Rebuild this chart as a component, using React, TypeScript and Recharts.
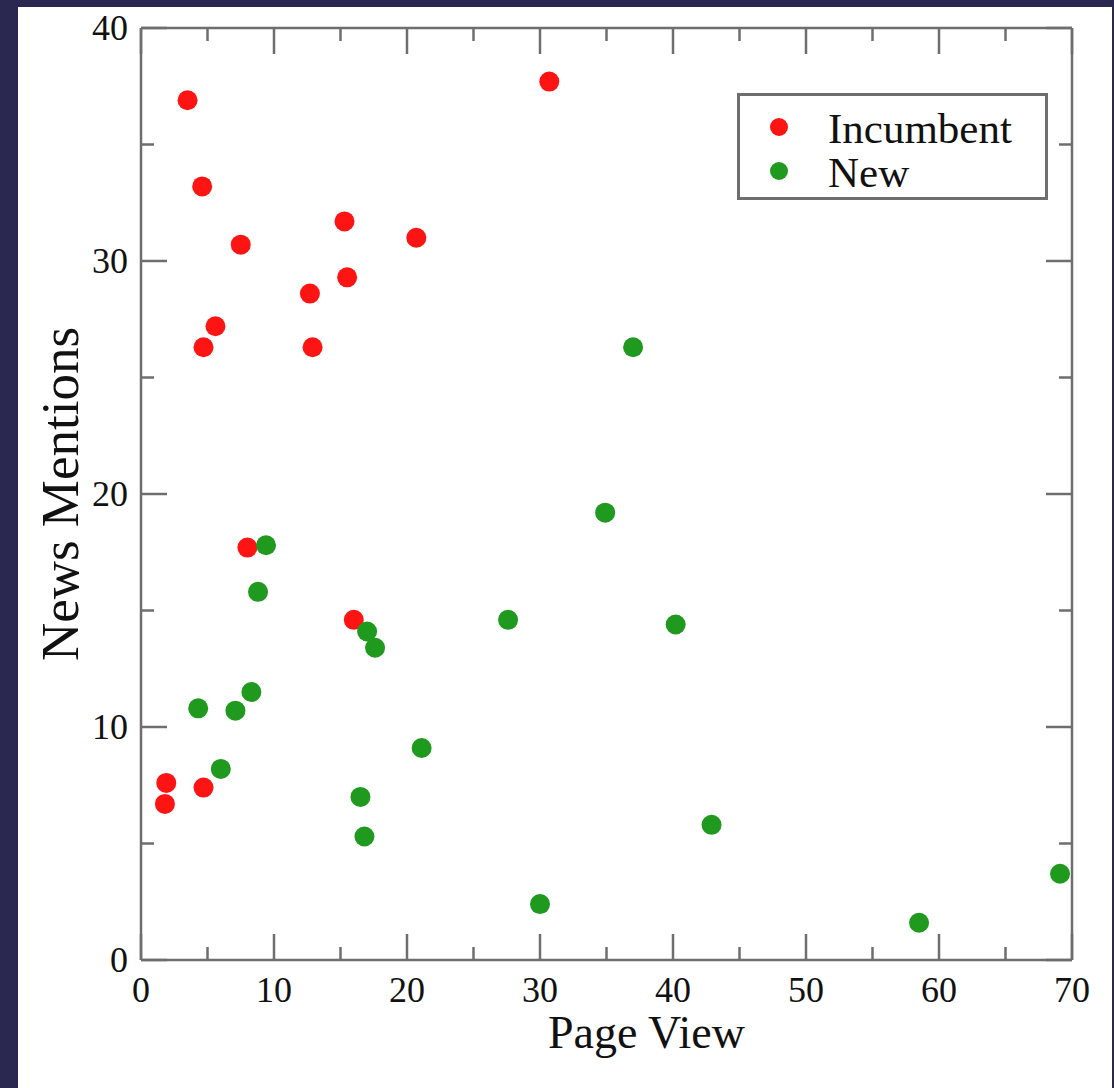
import React from 'react';
import { ScatterChart, Scatter, XAxis, YAxis, Legend, Label } from 'recharts';

const incumbentPageView = [3.5, 4.6, 7.5, 5.6, 4.7, 12.7, 12.9, 15.3, 15.5, 20.7, 30.7, 8.0, 16.0, 1.9, 1.8, 4.7];
const incumbentMentions = [36.9, 33.2, 30.7, 27.2, 26.3, 28.6, 26.3, 31.7, 29.3, 31.0, 37.7, 17.7, 14.6, 7.6, 6.7, 7.4];
const newPageView = [37.0, 34.9, 9.4, 8.8, 27.6, 40.2, 17.0, 17.6, 4.3, 7.1, 8.3, 6.0, 21.1, 16.5, 16.8, 42.9, 30.0, 58.5, 69.1];
const newMentions = [26.3, 19.2, 17.8, 15.8, 14.6, 14.4, 14.1, 13.4, 10.8, 10.7, 11.5, 8.2, 9.1, 7.0, 5.3, 5.8, 2.4, 1.6, 3.7];

const xTicks = [0, 5, 10, 15, 20, 25, 30, 35, 40, 45, 50, 55, 60, 65, 70];
const yTicks = [0, 5, 10, 15, 20, 25, 30, 35, 40];
const seriesNames = ['Incumbent', 'New'];
const seriesColors = ['#ff1414', '#1f9a1f'];

const incumbentData = incumbentPageView.map((x, i) => ({ x, y: incumbentMentions[i] }));
const newData = newPageView.map((x, i) => ({ x, y: newMentions[i] }));

const AXIS = '#6e6e6e';
const MAJOR = 26;
const MINOR = 13;
const FONT = '"Liberation Serif", "Times New Roman", serif';
const TICK_FS = 36;

const BottomTick = (props: any) => {
  const { x, y, payload } = props;
  const major = payload.value % 10 === 0;
  const y0 = y - 16;
  return (
    <g>
      <line x1={x} x2={x} y1={y0} y2={y0 - (major ? MAJOR : MINOR)} stroke={AXIS} strokeWidth={2.5} />
      {major && (
        <text x={x} y={y0 + 42} textAnchor="middle" fontFamily={FONT} fontSize={TICK_FS} fill="#111">
          {payload.value}
        </text>
      )}
    </g>
  );
};

const LeftTick = (props: any) => {
  const { x, y, payload } = props;
  const major = payload.value % 10 === 0;
  const x0 = x + 13;
  return (
    <g>
      <line x1={x0} x2={x0 + (major ? MAJOR : MINOR)} y1={y} y2={y} stroke={AXIS} strokeWidth={2.5} />
      {major && (
        <text x={x} y={y + 12} textAnchor="end" fontFamily={FONT} fontSize={TICK_FS} fill="#111">
          {payload.value}
        </text>
      )}
    </g>
  );
};

const TopTick = (props: any) => {
  const { x, y, payload } = props;
  const major = payload.value % 10 === 0;
  return <line x1={x} x2={x} y1={y} y2={y + (major ? MAJOR : MINOR)} stroke={AXIS} strokeWidth={2.5} />;
};

const RightTick = (props: any) => {
  const { x, y, payload } = props;
  const major = payload.value % 10 === 0;
  return <line x1={x} x2={x - (major ? MAJOR : MINOR)} y1={y} y2={y} stroke={AXIS} strokeWidth={2.5} />;
};

const dotShape = (color: string) => (p: any) => <circle cx={p.cx} cy={p.cy} r={10} fill={color} />;
const noShape = () => <g />;

const LegendBox = () => {
  return (
    <svg width={311} height={107} style={{ display: 'block' }}>
      <rect x={1.5} y={1.5} width={308} height={104} fill="#fff" stroke={AXIS} strokeWidth={3} />
      {seriesNames.map((n, i) => (
        <g key={n}>
          <circle cx={42} cy={34 + i * 44} r={9} fill={seriesColors[i]} />
          <text x={91} y={50 + i * 44} fontFamily={FONT} fontSize={43} fill="#111">
            {n}
          </text>
        </g>
      ))}
    </svg>
  );
};

export default function App() {
  return (
    <div style={{ position: 'fixed', left: 0, top: 0, width: 1114, height: 1088, background: '#2a2850', overflow: 'hidden' }}>
      <div style={{ position: 'absolute', left: 18, top: 7, width: 1094, height: 1081, background: '#ffffff' }} />
      <div style={{ position: 'absolute', left: 0, top: 0 }}>
        <ScatterChart width={1114} height={1088} margin={{ top: 27, right: 41, bottom: 68, left: 41 }}>
          <XAxis
            xAxisId="b"
            type="number"
            dataKey="x"
            domain={[0, 70]}
            ticks={xTicks}
            interval={0}
            orientation="bottom"
            height={60}
            tickSize={0}
            tickMargin={16}
            tickLine={false}
            axisLine={{ stroke: AXIS, strokeWidth: 2.5 }}
            tick={<BottomTick />}
          >
            <Label
              content={(p: any) => {
                const vb = p.viewBox;
                return (
                  <text x={vb.x + vb.width / 2 + 40} y={vb.y + 88} textAnchor="middle" fontFamily={FONT} fontSize={46} fill="#111">
                    Page View
                  </text>
                );
              }}
            />
          </XAxis>
          <XAxis
            xAxisId="t"
            type="number"
            dataKey="x"
            domain={[0, 70]}
            ticks={xTicks}
            interval={0}
            orientation="top"
            height={1}
            tickSize={0}
            tickMargin={0}
            tickLine={false}
            axisLine={{ stroke: AXIS, strokeWidth: 2.5 }}
            tick={<TopTick />}
          />
          <YAxis
            yAxisId="l"
            type="number"
            dataKey="y"
            domain={[0, 40]}
            ticks={yTicks}
            interval={0}
            orientation="left"
            width={100}
            tickSize={0}
            tickMargin={13}
            tickLine={false}
            axisLine={{ stroke: AXIS, strokeWidth: 2.5 }}
            tick={<LeftTick />}
          >
            <Label
              content={(p: any) => {
                const vb = p.viewBox;
                const bx = vb.x + 37;
                const cy = vb.y + vb.height / 2;
                return (
                  <text x={bx} y={cy} transform={`rotate(-90 ${bx} ${cy})`} textAnchor="middle" fontFamily={FONT} fontSize={53} fill="#111">
                    News Mentions
                  </text>
                );
              }}
            />
          </YAxis>
          <YAxis
            yAxisId="r"
            type="number"
            dataKey="y"
            domain={[0, 40]}
            ticks={yTicks}
            interval={0}
            orientation="right"
            width={1}
            tickSize={0}
            tickMargin={0}
            tickLine={false}
            axisLine={{ stroke: AXIS, strokeWidth: 2.5 }}
            tick={<RightTick />}
          />
          <Legend
            layout="vertical"
            align="center"
            verticalAlign="middle"
            wrapperStyle={{ left: 737, top: 93, width: 311, height: 107 }}
            content={<LegendBox />}
          />
          <Scatter
            name="frame"
            data={newData}
            xAxisId="t"
            yAxisId="r"
            legendType="none"
            shape={noShape}
            isAnimationActive={false}
          />
          <Scatter
            name={seriesNames[0]}
            data={incumbentData}
            xAxisId="b"
            yAxisId="l"
            fill={seriesColors[0]}
            shape={dotShape(seriesColors[0])}
            isAnimationActive={false}
          />
          <Scatter
            name={seriesNames[1]}
            data={newData}
            xAxisId="b"
            yAxisId="l"
            fill={seriesColors[1]}
            shape={dotShape(seriesColors[1])}
            isAnimationActive={false}
          />
        </ScatterChart>
      </div>
    </div>
  );
}
